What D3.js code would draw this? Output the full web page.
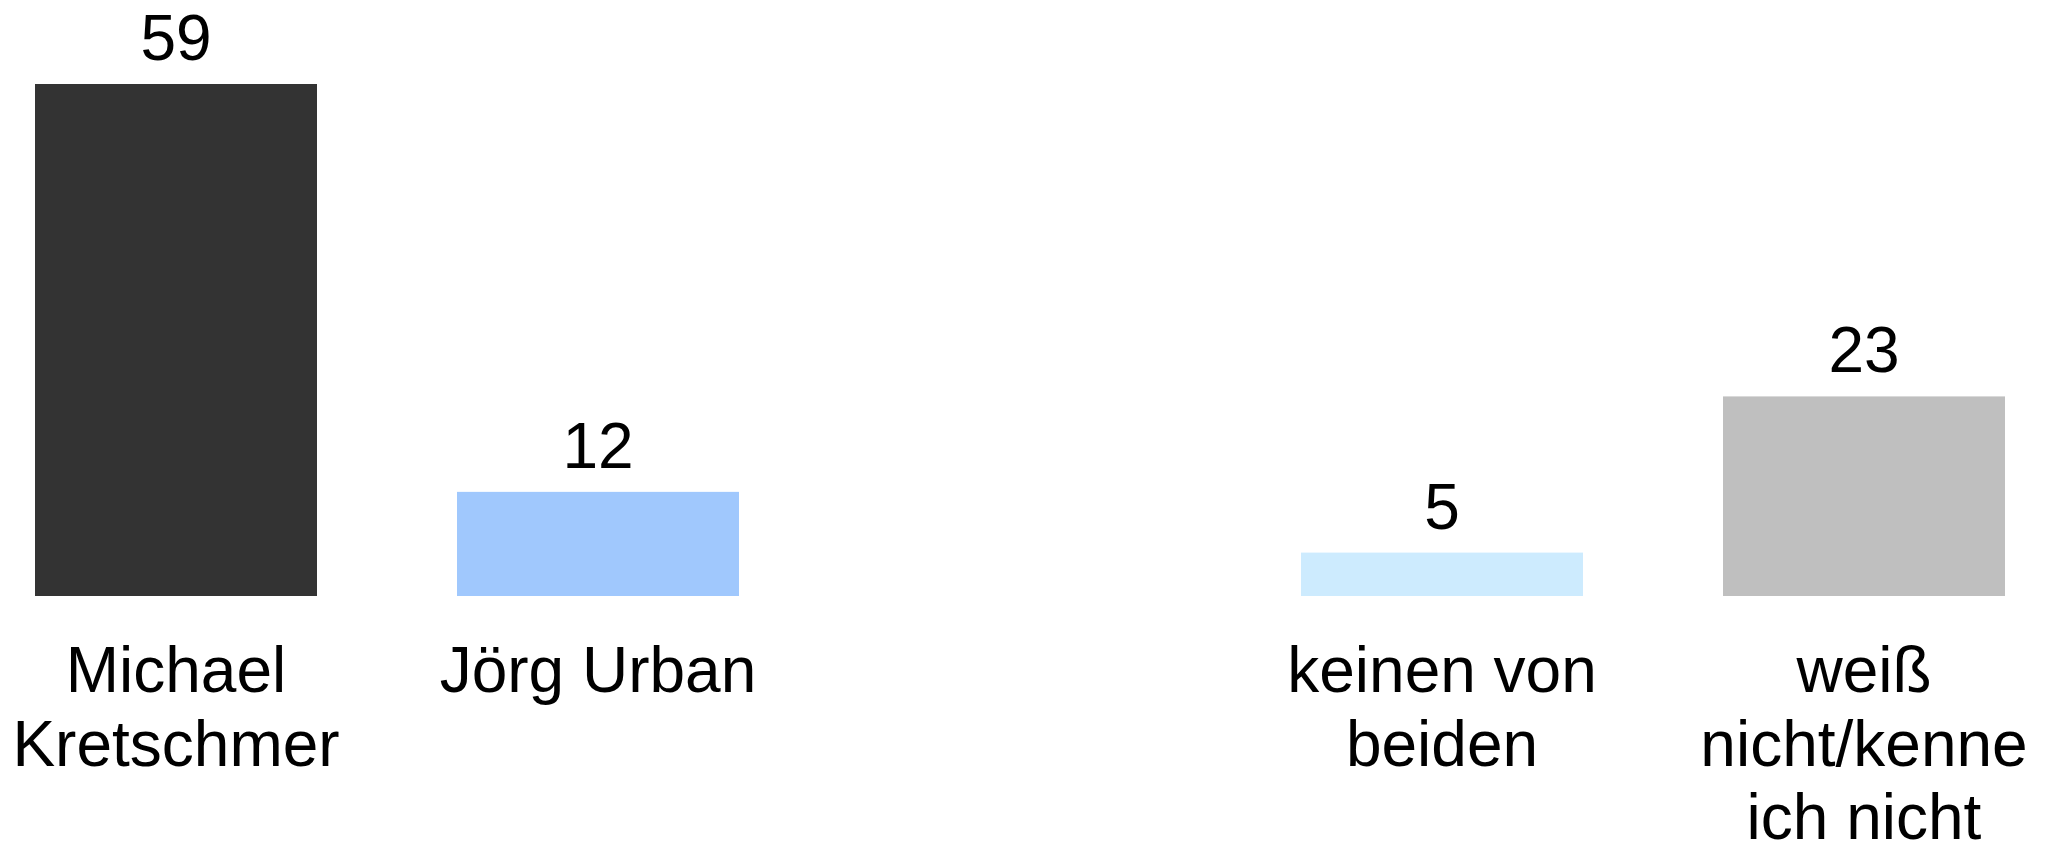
<!DOCTYPE html>
<html>
<head>
<meta charset="utf-8">
<script src="https://cdn.jsdelivr.net/npm/d3@7"></script>
<style>
  html, body { margin: 0; padding: 0; background: #ffffff; }
  svg { display: block; }
  text { font-family: "Liberation Sans", Arial, Helvetica, sans-serif; fill: #000; }
</style>
</head>
<body>
<svg id="chart" width="2051" height="843"></svg>
<script>
const categories = ["Michael\nKretschmer", "Jörg Urban", "", "keinen von\nbeiden", "weiß\nnicht/kenne\nich nicht"];
const values = [59, 12, null, 5, 23];
const colors = ["#333333", "#a0c8fd", "#ffffff", "#cdebfe", "#bfbfbf"];

const W = 2051, H = 843;
const svg = d3.select("#chart");

const x = d3.scaleBand()
  .domain(categories)
  .range([35, 2005])
  .paddingInner(140 / 422)
  .paddingOuter(0);

const y = d3.scaleLinear()
  .domain([0, 59])
  .range([596, 84]);

const data = categories.map((c, i) => ({ cat: c, value: values[i], color: colors[i] }))
  .filter(d => d.value != null);

svg.append("g").selectAll("rect")
  .data(data)
  .join("rect")
  .attr("x", d => x(d.cat))
  .attr("y", d => y(d.value))
  .attr("width", x.bandwidth())
  .attr("height", d => y(0) - y(d.value))
  .attr("fill", d => d.color);

svg.append("g").selectAll("text")
  .data(data)
  .join("text")
  .attr("x", d => x(d.cat) + x.bandwidth() / 2)
  .attr("y", d => y(d.value) - 24)
  .attr("text-anchor", "middle")
  .attr("font-size", 64)
  .text(d => d.value);

const axis = svg.append("g")
  .attr("transform", `translate(0,${y(0)})`)
  .call(d3.axisBottom(x).tickSize(0).tickFormat(""));
axis.select(".domain").remove();

axis.selectAll(".tick").each(function(c) {
  const g = d3.select(this);
  g.select("text").remove();
  if (!c) return;
  const t = g.append("text")
    .attr("text-anchor", "middle")
    .attr("font-size", 64)
    .attr("y", 96);
  c.split("\n").forEach((line, i) => {
    t.append("tspan").attr("x", 0).attr("dy", i === 0 ? 0 : 73.5).text(line);
  });
});
</script>
</body>
</html>
